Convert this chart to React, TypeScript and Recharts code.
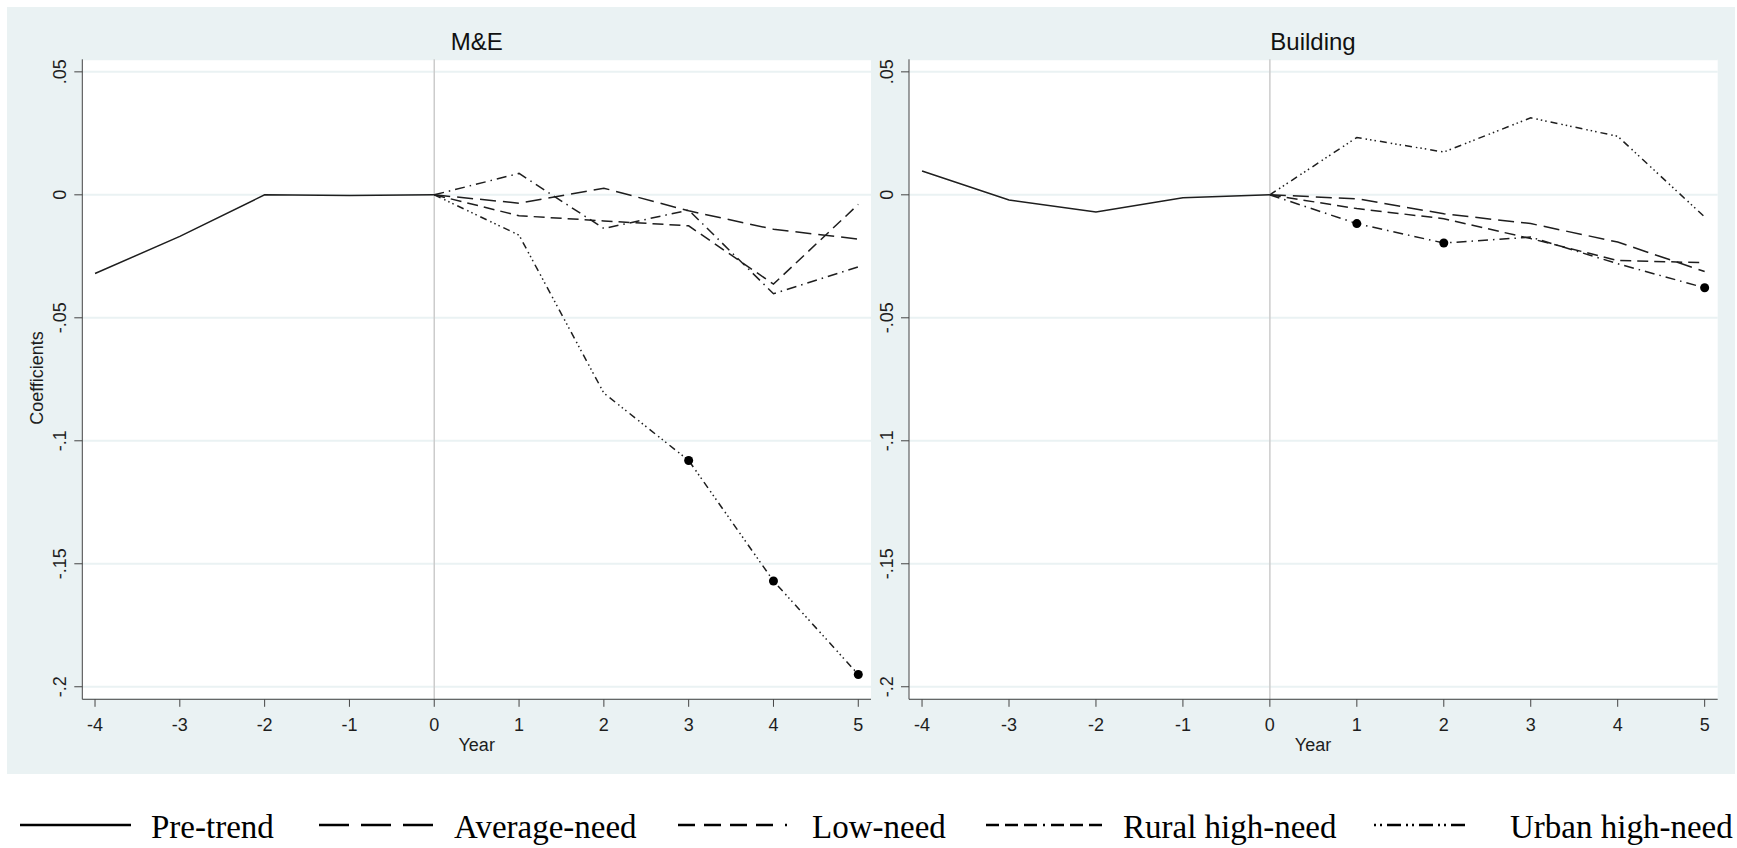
import React from "react";
import {
  LineChart,
  Line,
  XAxis,
  YAxis,
  CartesianGrid,
  ReferenceLine,
} from "recharts";

const years = [-4, -3, -2, -1, 0, 1, 2, 3, 4, 5];
const yTicks = [0.05, 0, -0.05, -0.1, -0.15, -0.2];

// M&E panel: pre-trend covers years -4..0, the groups cover 0..5
const mePreTrend = [-0.032, -0.0169, 0.0, -0.0003, 0.0];
const meAverageNeed = [0, -0.0034, 0.0027, -0.0065, -0.014, -0.018];
const meLowNeed = [0, -0.0085, -0.0106, -0.0126, -0.0363, -0.0039];
const meRuralHighNeed = [0, 0.0087, -0.0137, -0.0062, -0.0402, -0.0293];
const meUrbanHighNeed = [0, -0.0164, -0.0806, -0.108, -0.157, -0.195];
const meUrbanMarked = [false, false, false, true, true, true];

// Building panel
const bdPreTrend = [0.0097, -0.0021, -0.007, -0.0012, 0.0];
const bdAverageNeed = [0, -0.0016, -0.0077, -0.0117, -0.0192, -0.0312];
const bdLowNeed = [0, -0.0056, -0.0097, -0.0178, -0.0267, -0.0276];
const bdRuralHighNeed = [0, -0.0117, -0.0196, -0.0172, -0.028, -0.0378];
const bdUrbanHighNeed = [0, 0.0233, 0.0174, 0.0313, 0.0238, -0.009];
const bdRuralMarked = [false, true, true, false, false, true];

const INK = "#1e1e1e";
const BG = "#eaf2f3";
const SANS = "'Liberation Sans', Arial, sans-serif";
const SERIF = "'Liberation Serif', 'Times New Roman', serif";

const styles = {
  pre: "",
  avg: "16 7",
  low: "11 6",
  rural: "10 5 1.5 5",
  urban: "7 4 1.5 3 1.5 3 1.5 4",
};

function buildRows(pre, avg, low, rural, urban, marked) {
  return years.map((year, i) => {
    const j = i - 4;
    return {
      year,
      pre: i <= 4 ? pre[i] : null,
      avg: j >= 0 ? avg[j] : null,
      low: j >= 0 ? low[j] : null,
      rural: j >= 0 ? rural[j] : null,
      urban: j >= 0 ? urban[j] : null,
      marked: j >= 0 ? marked[j] : false,
    };
  });
}

const meRows = buildRows(
  mePreTrend,
  meAverageNeed,
  meLowNeed,
  meRuralHighNeed,
  meUrbanHighNeed,
  meUrbanMarked,
);
const bdRows = buildRows(
  bdPreTrend,
  bdAverageNeed,
  bdLowNeed,
  bdRuralHighNeed,
  bdUrbanHighNeed,
  bdRuralMarked,
);

const fmtY = (v) => {
  if (v === 0) return "0";
  return (v < 0 ? "-" : "") + String(Math.abs(v)).replace(/^0/, "");
};

const XTick = (props) => {
  const { x, y, payload } = props;
  return (
    <text x={x} y={y + 24} textAnchor="middle" fontSize={18} fontFamily={SANS} fill={INK}>
      {payload.value}
    </text>
  );
};

const YTick = (props) => {
  const { x, y, payload } = props;
  const bx = x - 8;
  return (
    <text
      x={bx}
      y={y}
      transform={`rotate(-90, ${bx}, ${y})`}
      textAnchor="middle"
      fontSize={18}
      fontFamily={SANS}
      fill={INK}
    >
      {fmtY(payload.value)}
    </text>
  );
};

const markDot = (props) => {
  const { cx, cy, payload, index } = props;
  if (!payload.marked || cx == null || cy == null) return <g key={index} />;
  return <circle key={index} cx={cx} cy={cy} r={4.5} fill="#000" />;
};

function Panel({ rows, left, width, plotLeft, plotRight, markKey }) {
  const height = 780;
  const yAxisWidth = 40;
  const xAxisHeight = 40;
  const margin = {
    top: 59.3,
    bottom: height - 699.3 - xAxisHeight,
    left: plotLeft - left - yAxisWidth,
    right: left + width - plotRight,
  };
  const series = ["pre", "avg", "low", "rural", "urban"];
  return (
    <div style={{ position: "absolute", left, top: 0, width, height }}>
      <LineChart width={width} height={height} data={rows} margin={margin}>
        <CartesianGrid
          vertical={false}
          fill="#ffffff"
          stroke={BG}
          strokeWidth={2}
        />
        <XAxis
          type="number"
          dataKey="year"
          domain={[-4.15, 5.15]}
          ticks={years}
          interval={0}
          allowDataOverflow
          height={xAxisHeight}
          tickSize={7.5}
          tickMargin={0}
          stroke="#444"
          tickLine={{ stroke: "#444" }}
          tick={XTick}
        />
        <YAxis
          type="number"
          domain={[-0.2051, 0.0551]}
          ticks={yTicks}
          interval={0}
          allowDataOverflow
          width={yAxisWidth}
          tickSize={8}
          tickMargin={0}
          stroke="#444"
          tickLine={{ stroke: "#444" }}
          tick={YTick}
        />
        <ReferenceLine x={0} stroke="#cccccc" strokeWidth={1.5} />
        {series.map((key) => (
          <Line
            key={key}
            type="linear"
            dataKey={key}
            stroke={INK}
            strokeWidth={1.5}
            strokeDasharray={styles[key] || undefined}
            dot={key === markKey ? markDot : false}
            activeDot={false}
            connectNulls={false}
            isAnimationActive={false}
          />
        ))}
      </LineChart>
    </div>
  );
}

const legendItems = [
  { label: "Pre-trend", key: "pre", x1: 20, x2: 131, tx: 151, dash: "" },
  { label: "Average-need", key: "avg", x1: 319, x2: 435, tx: 454, dash: "30 12" },
  { label: "Low-need", key: "low", x1: 678, x2: 795, tx: 812, dash: "17 9 17 9 17 9 17 12 2 20" },
  { label: "Rural high-need", key: "rural", x1: 986, x2: 1103, tx: 1123, dash: "13 6 13 6 13 6 2 6 13 6 13 6 13 20" },
  { label: "Urban high-need", key: "urban", x1: 1374, x2: 1480, tx: 1510, dash: "2 4 2 5 14 5 2 4 2 5 14 5 2 4 2 5 14 20" },
];

export default function App() {
  return (
    <div
      style={{
        position: "fixed",
        left: 0,
        top: 0,
        width: 1737,
        height: 848,
        background: "#ffffff",
        overflow: "hidden",
      }}
    >
      <svg width={1737} height={848} style={{ position: "absolute", left: 0, top: 0 }}>
        <rect x={7} y={7} width={1728} height={767} fill={BG} />
        <text x={476.7} y={50} textAnchor="middle" fontSize={24} fontFamily={SANS} fill="#111">
          M&amp;E
        </text>
        <text x={1313} y={50} textAnchor="middle" fontSize={24} fontFamily={SANS} fill="#111">
          Building
        </text>
        <text
          x={43}
          y={378}
          transform="rotate(-90, 43, 378)"
          textAnchor="middle"
          fontSize={18}
          fontFamily={SANS}
          fill={INK}
        >
          Coefficients
        </text>
        <text x={476.7} y={750.7} textAnchor="middle" fontSize={18} fontFamily={SANS} fill={INK}>
          Year
        </text>
        <text x={1313} y={750.7} textAnchor="middle" fontSize={18} fontFamily={SANS} fill={INK}>
          Year
        </text>
        {legendItems.map((it) => (
          <g key={it.key}>
            <line
              x1={it.x1}
              x2={it.x2}
              y1={825}
              y2={825}
              stroke="#000"
              strokeWidth={2.5}
              strokeDasharray={it.dash || undefined}
            />
            <text x={it.tx} y={838} fontSize={33} fontFamily={SERIF} fill="#000">
              {it.label}
            </text>
          </g>
        ))}
      </svg>
      <Panel rows={meRows} left={0} width={890} plotLeft={82.3} plotRight={871} markKey="urban" />
      <Panel rows={bdRows} left={860} width={877} plotLeft={909} plotRight={1717.7} markKey="rural" />
    </div>
  );
}
